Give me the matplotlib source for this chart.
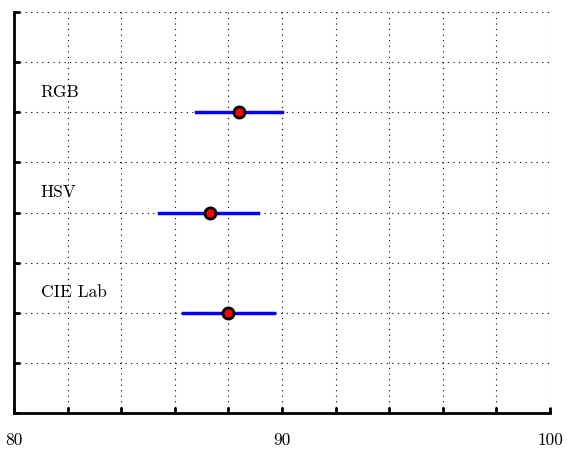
import matplotlib
matplotlib.use('Agg')
import matplotlib.pyplot as plt

plt.rcParams['font.family'] = 'cmr10'
plt.rcParams['axes.formatter.use_mathtext'] = True

# data
spaces = ['RGB', 'HSV', 'CIE Lab']
ypos = [6, 4, 2]
means = [88.4, 87.3, 88.0]
lows = [86.8, 85.4, 86.3]
highs = [90.0, 89.1, 89.7]
xticks = list(range(80, 101, 2))
xticklabels = ['80', '', '', '', '', '90', '', '', '', '', '100']

fig = plt.figure(figsize=(5.67, 4.5), dpi=100)
ax = fig.add_axes([0.0247, 0.0822, 0.9453, 0.8911])

for name, y, m, lo, hi in zip(spaces, ypos, means, lows, highs):
    ax.plot([lo, hi], [y, y], color='blue', lw=2.5, zorder=3)
    ax.plot(m, y, 'o', color='red', mec='black', mew=2, ms=8, zorder=4)
    ax.text(81.0, y + 0.4, name, fontsize=12.5, va='center', ha='left')

ax.set_xlim(80, 100)
ax.set_ylim(0, 8)
ax.set_xticks(xticks)
ax.set_xticklabels(xticklabels, fontsize=12.5)
ax.set_yticks(range(0, 9))
ax.set_yticklabels([])
ax.tick_params(direction='in', length=4, width=2, pad=14)
ax.grid(True, linestyle=(0, (1, 4)), color='black', lw=0.8)
for s in ['left', 'bottom']:
    ax.spines[s].set_linewidth(2)
for s in ['top', 'right']:
    ax.spines[s].set_visible(False)

fig.savefig('out.png', dpi=100)
